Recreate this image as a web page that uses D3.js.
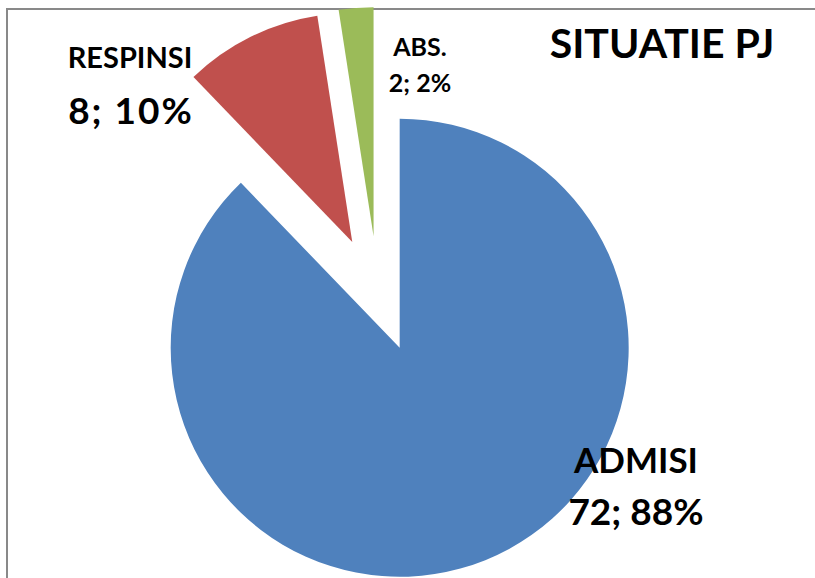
<!DOCTYPE html>
<html>
<head>
<meta charset="utf-8">
<script src="https://cdn.jsdelivr.net/npm/d3@7"></script>
<style>
  body { margin: 0; background: #fff; }
  text { font-family: Lato, "Open Sans", sans-serif; font-weight: bold; fill: #000; }
</style>
</head>
<body>
<script>
// pie data
var categories = ["ADMISI", "RESPINSI", "ABS."];
var values = [72, 8, 2];
var percents = ["88%", "10%", "2%"];
var colors = ["#4F81BD", "#C0504D", "#9BBB59"];

var width = 815, height = 578;
var cx = 378, cy = 294, radius = 229, explode = 58;

var svg = d3.select("body")
	.append("svg")
	.attr("width", width)
	.attr("height", height);

// chart frame (only top and left edges are visible)
svg.append("rect")
	.attr("x", 7)
	.attr("y", 9)
	.attr("width", 900)
	.attr("height", 700)
	.attr("fill", "none")
	.attr("stroke", "#898989")
	.attr("stroke-width", 2);

var pie = d3.pie().sort(null).value(function(d) { return d; });
var arc = d3.arc().innerRadius(0).outerRadius(radius);
var arcs = pie(values);

var g = svg.append("g").attr("transform", "translate(" + cx + "," + cy + ")");

g.selectAll("path")
	.data(arcs)
	.enter()
	.append("path")
	.attr("d", arc)
	.attr("fill", function(d, i) { return colors[i]; })
	.attr("transform", function(d) {
		var a = (d.startAngle + d.endAngle) / 2;
		return "translate(" + (Math.sin(a) * explode) + "," + (-Math.cos(a) * explode) + ")";
	});

// label placement (centre x, baselines, sizes, spacing of second line)
var labelPos = [
	{x: 636, y1: 473, y2: 525, s1: 35, s2: 37, ls: 0},
	{x: 130, y1: 68, y2: 124, s1: 29, s2: 37, ls: 2},
	{x: 420, y1: 56, y2: 92, s1: 25, s2: 25, ls: 0}
];

categories.forEach(function(c, i) {
	var p = labelPos[i];
	svg.append("text")
		.attr("x", p.x).attr("y", p.y1)
		.attr("text-anchor", "middle")
		.style("font-size", p.s1 + "px")
		.text(c);
	svg.append("text")
		.attr("x", p.x + p.ls / 2).attr("y", p.y2)
		.attr("text-anchor", "middle")
		.style("font-size", p.s2 + "px")
		.style("letter-spacing", p.ls + "px")
		.text(values[i] + "; " + percents[i]);
});

svg.append("text")
	.attr("x", 662).attr("y", 58)
	.attr("text-anchor", "middle")
	.style("font-size", "41px")
	.text("SITUATIE PJ");
</script>
</body>
</html>
